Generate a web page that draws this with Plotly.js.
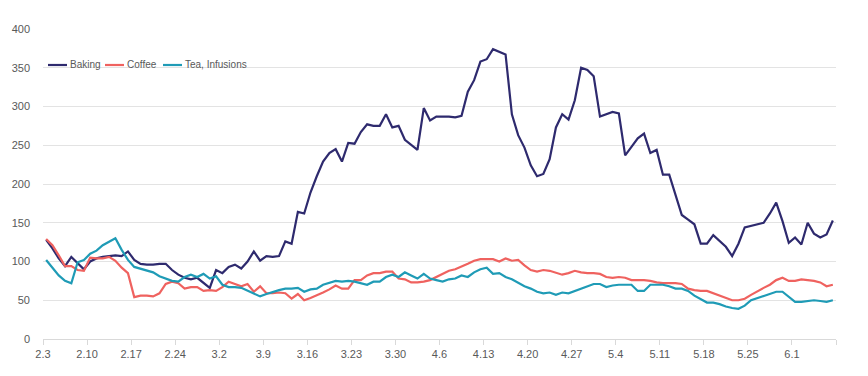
<!DOCTYPE html>
<html>
<head>
<meta charset="utf-8">
<script src="https://cdn.plot.ly/plotly-3.0.1.min.js"></script>
<style>
html,body{margin:0;padding:0;background:#fff;}
#chart{width:868px;height:376px;}
</style>
</head>
<body>
<div id="chart"></div>
<script>
// Daily series, 2020-02-03 .. 2020-06-07
const startDate = '2020-02-03';
const seriesNames = ['Baking', 'Coffee', 'Tea, Infusions'];
const baking = [128,117,104,94,106,98,90,100,104,106,107,108,107,113,102,97,96,96,97,97,
89,83,79,77,79,72,66,89,85,93,96,91,100,113,101,107,106,107,126,123,
164,162,189,210,229,240,245,229,253,252,267,277,275,275,290,273,275,257,250,244,
298,282,287,287,287,286,288,319,334,358,361,374,371,367,290,263,247,224,210,213,
232,273,290,283,308,350,347,339,287,290,293,291,237,248,259,265,240,244,212,212,
185,160,154,148,123,123,134,126,119,107,123,144,146,148,150,162,176,152,124,131,
122,150,136,131,135,153];
const coffee = [129,121,108,94,94,89,88,105,104,104,106,101,92,85,54,56,56,55,59,71,
74,72,65,67,67,62,63,62,67,74,71,68,71,61,68,59,59,60,59,52,
58,50,53,56,60,64,69,65,65,76,76,82,85,85,87,87,78,77,73,73,
74,76,80,84,88,90,93,97,101,103,103,103,100,104,101,102,95,89,87,89,
88,85,83,85,88,86,85,85,84,80,79,80,79,76,76,76,75,73,72,72,
72,71,65,63,62,62,59,56,52,50,50,52,57,62,66,70,76,79,75,75,
77,76,75,73,68,70];
const tea = [102,92,82,75,72,99,102,110,114,121,126,130,115,102,93,91,88,86,81,78,
75,74,80,83,80,84,78,81,70,67,67,66,62,59,55,58,61,63,65,65,
66,61,64,65,70,73,75,74,75,74,72,70,74,74,80,83,80,86,82,78,
84,78,76,74,77,78,82,80,86,90,92,84,85,80,77,72,68,65,61,59,
60,57,60,59,62,64,67,71,71,67,69,70,70,70,62,62,70,70,70,68,
65,65,62,56,51,47,47,45,42,40,39,43,50,53,56,58,61,61,55,48,
48,49,50,49,48,50];
const tickDates = ['2020-02-03','2020-02-10','2020-02-17','2020-02-24','2020-03-02','2020-03-09',
'2020-03-16','2020-03-23','2020-03-30','2020-04-06','2020-04-13','2020-04-20','2020-04-27',
'2020-05-04','2020-05-11','2020-05-18','2020-05-25','2020-06-01','2020-06-08'];
const tickLabels = ['2.3','2.10','2.17','2.24','3.2','3.9','3.16','3.23','3.30','4.6','4.13',
'4.20','4.27','5.4','5.11','5.18','5.25','6.1',''];
const colors = ['#2e2a6e', '#ef625f', '#1f9bb6'];

// one x per day, placed at mid-day
const dates = [];
const t0 = Date.parse(startDate + 'T12:00:00Z');
for (let i = 0; i < baking.length; i++) {
  const d = new Date(t0 + i * 86400000);
  dates.push(d.toISOString().slice(0, 19).replace('T', ' '));
}

const all = [baking, coffee, tea];
const traces = all.map((vals, k) => ({
  x: dates, y: vals, name: seriesNames[k], type: 'scatter', mode: 'lines',
  line: {color: colors[k], width: 2.2},
  hoverinfo: 'skip', showlegend: false
}));

// compact legend drawn in paper coordinates (sample lines + labels)
const W = 868, H = 376, mL = 43, mR = 32, mT = 29, mB = 37;
const pw = W - mL - mR, ph = H - mT - mB;
const px = v => (v - mL) / pw;
const py = v => (H - mB - v) / ph;
const legendY = 65;
const legendStarts = [48, 105, 163];
const shapes = [], annotations = [];
seriesNames.forEach((nm, k) => {
  const x0 = legendStarts[k];
  shapes.push({type: 'line', xref: 'paper', yref: 'paper',
    x0: px(x0), x1: px(x0 + 19), y0: py(legendY), y1: py(legendY),
    line: {color: colors[k], width: 2.2}});
  annotations.push({xref: 'paper', yref: 'paper', x: px(x0 + 20), y: py(legendY),
    xanchor: 'left', yanchor: 'middle', text: nm, showarrow: false,
    font: {size: 10, color: '#595959'}});
});

const layout = {
  width: W, height: H,
  margin: {l: mL, r: mR, t: mT, b: mB},
  paper_bgcolor: '#fff', plot_bgcolor: '#fff',
  font: {family: '"Liberation Sans", Arial, sans-serif', size: 11, color: '#595959'},
  showlegend: false,
  shapes: shapes, annotations: annotations,
  xaxis: {
    type: 'date', range: ['2020-02-03', '2020-06-08'],
    tickmode: 'array', tickvals: tickDates, ticktext: tickLabels,
    showgrid: false, zeroline: false,
    showline: true, linecolor: '#d9d9d9', linewidth: 1,
    ticks: 'outside', ticklen: 5, tickcolor: '#d9d9d9', tickwidth: 1,
    tickfont: {size: 11, color: '#595959'}
  },
  yaxis: {
    range: [0, 400], tickmode: 'linear', tick0: 0, dtick: 50,
    showgrid: true, gridcolor: '#e3e3e3', gridwidth: 1,
    zeroline: false, showline: false, ticks: '',
    ticklabelstandoff: 12,
    tickfont: {size: 11, color: '#595959'}
  }
};

Plotly.newPlot('chart', traces, layout, {displayModeBar: false, staticPlot: true});
</script>
</body>
</html>
